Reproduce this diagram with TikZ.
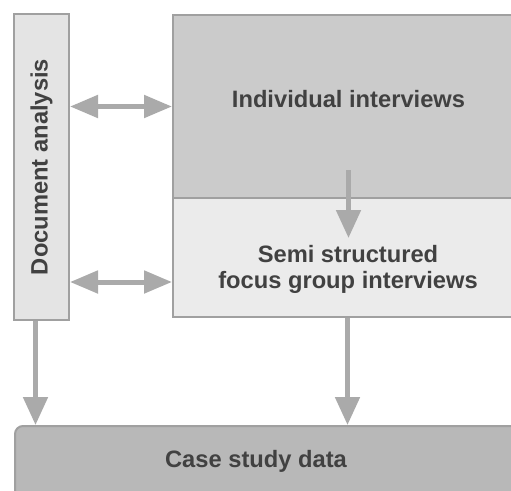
\documentclass[tikz,border=0pt]{standalone}
\usepackage{fontspec}
\setmainfont{Liberation Sans}
\usetikzlibrary{arrows.meta}
\definecolor{boxline}{HTML}{A0A0A0}
\definecolor{docfill}{HTML}{E4E4E4}
\definecolor{indivfill}{HTML}{CBCBCB}
\definecolor{semifill}{HTML}{EBEBEB}
\definecolor{casefill}{HTML}{B8B8B8}
\definecolor{arrowgray}{HTML}{AAAAAA}
\definecolor{labelgray}{HTML}{414141}
\tikzset{
  box/.style={draw=boxline, line width=2pt, inner sep=0pt},
  lbl/.style={text=labelgray, font=\bfseries\fontsize{23.7}{26}\selectfont, inner sep=0pt, align=center},
  flow/.style={draw=arrowgray, line width=5pt,
    -{Triangle[length=28pt,width=24pt]}, shorten <=0pt},
  bothways/.style={draw=arrowgray, line width=5pt,
    {Triangle[length=28pt,width=22pt]}-{Triangle[length=28pt,width=22pt]}}
}
\begin{document}
\begin{tikzpicture}[x=1pt,y=-1pt]
  \clip (0,0) rectangle (511,490);
  \fill[white] (0,0) rectangle (511,490);

  % boxes
  \node[box, fill=docfill, minimum width=55pt, minimum height=306pt] (doc) at (41.5,167)
    {\rotatebox{90}{\textcolor{labelgray}{\bfseries\fontsize{23.7}{26}\selectfont Document analysis}}};
  \node[box, fill=indivfill, minimum width=351pt, minimum height=183pt] (indiv) at (348.5,106.5) {};
  \node[box, fill=semifill, minimum width=351pt, minimum height=119pt] (semi) at (348.5,257.5) {};
  \node[box, fill=casefill, rounded corners=8pt, minimum width=520pt, minimum height=94pt] (case) at (275,473) {};

  % labels
  \node[lbl, anchor=base] (indivtext) at (348.5,107) {Individual interviews};
  \node[lbl] (semitext) at (348,269) {Semi structured\\focus group interviews};
  \node[lbl, anchor=base] (casetext) at (256,467) {Case study data};

  % connectors
  \draw[bothways] (indiv.west -| doc.east) -- (indiv.west);
  \draw[bothways] ([yshift=-24.5pt]semi.west -| doc.east) -- ([yshift=-24.5pt]semi.west);
  \draw[flow] ([yshift=29pt]indiv.south) -- ([yshift=-39pt]indiv.south);
  \draw[flow] ([xshift=-6pt]doc.south) -- ([xshift=-6pt]doc.south |- case.north);
  \draw[flow] ([xshift=-1pt]semi.south) -- ([xshift=-1pt]semi.south |- case.north);
\end{tikzpicture}
\end{document}
